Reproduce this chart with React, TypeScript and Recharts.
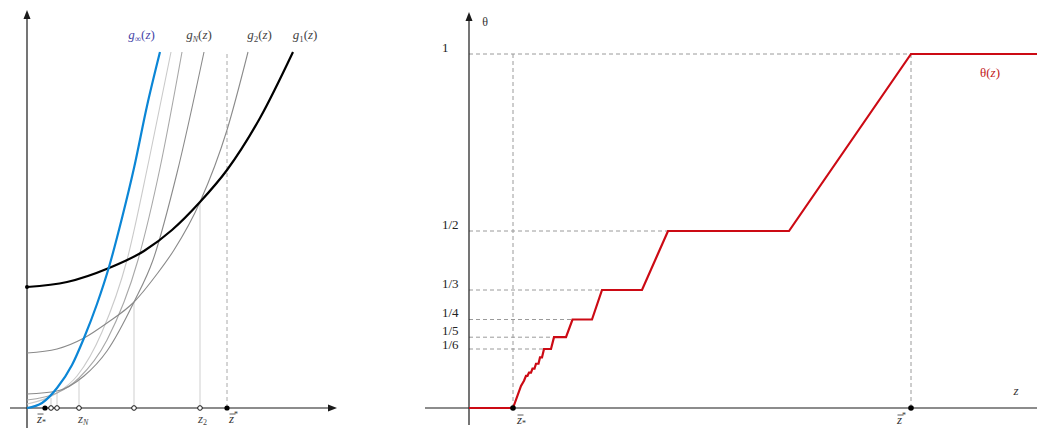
import React from 'react';
import { LineChart, Line, XAxis, YAxis, ReferenceLine, ReferenceDot } from 'recharts';

const FONT = '"Liberation Serif", "DejaVu Serif", serif';

// ---- left panel: the g_n(z) curves, [z, g] pairs ----
const g1Pts = [[0, 121], [40, 126], [82, 140], [117, 157], [145, 178], [173, 206], [200, 238], [233, 290], [266, 356]];
const g2Pts = [[0, 55], [30, 59], [57, 70], [80, 85], [107, 106], [130, 134], [147, 158], [173, 206], [200, 278], [221, 356]];
const g3Pts = [[0, 14], [30, 17], [57, 32], [80, 57], [107, 106], [126, 148], [150, 235], [177, 356]];
const g4Pts = [[0, 8], [30, 15], [52, 30], [80, 68], [111, 148], [133, 240], [155, 356]];
const g5Pts = [[0, 4], [30, 15], [50, 32], [75, 76], [100, 148], [122, 248], [144, 356]];
const gInfPts = [[0, 0], [15, 5], [30, 20], [45, 43], [57, 70], [70, 104], [82, 141], [95, 190], [107, 240], [120, 302], [133, 356]];

// intersections marked on the z axis: [z, height of the thin vertical guide]
const openMarks = [[24, 10], [30, 16], [52, 30], [107, 106], [173, 206]];
const zLowStar = 18;
const zHighStar = 200;
const gTop = 356;

// ---- right panel: theta(z), [z, theta] ----
const thetaPts: [number, number][] = [
  [0, 0], [44, 0], [52, 1 / 16], [55, 1 / 13], [57, 1 / 11], [58.5, 1 / 11], [60, 1 / 10], [62, 1 / 10],
  [63.5, 1 / 9], [65.5, 1 / 9], [67, 1 / 8], [69.5, 1 / 8], [71, 1 / 7], [73, 1 / 7], [75, 1 / 6], [82, 1 / 6],
  [85, 1 / 5], [97, 1 / 5], [103.5, 1 / 4], [123, 1 / 4], [133, 1 / 3], [173, 1 / 3], [199, 1 / 2], [320, 1 / 2],
  [442, 1], [568, 1],
];
const thetaLevels = [1, 1 / 2, 1 / 3, 1 / 4, 1 / 5, 1 / 6];
const thetaLabels = ['1', '1/2', '1/3', '1/4', '1/5', '1/6'];
const thetaLevelStart = [442, 199, 133, 103.5, 85, 75];
const zStarLow = 44;
const zStarHigh = 442;

const toXY = (pts: number[][]) => pts.map(([x, y]) => ({ x, y }));

const AXIS = '#1a1a1a';

const ArrowUp = (props: any) => {
  const { cx, cy } = props;
  return <path d={`M${cx},${cy} L${cx - 3.5},${cy + 9} L${cx + 3.5},${cy + 9} Z`} fill={AXIS} />;
};
const ArrowRight = (props: any) => {
  const { cx, cy } = props;
  return <path d={`M${cx},${cy} L${cx - 9},${cy - 3.5} L${cx - 9},${cy + 3.5} Z`} fill={AXIS} />;
};

const textLabel = (content: React.ReactNode, opts: { anchor?: string; fill?: string; dy?: number; size?: number } = {}) =>
  (props: any) => (
    <text
      x={props.cx}
      y={props.cy + (opts.dy || 0)}
      textAnchor={opts.anchor || 'middle'}
      style={{ fontFamily: FONT, fontSize: opts.size || 13 }}
      fill={opts.fill || '#444'}
    >
      {content}
    </text>
  );

// z with an overbar and a sub/superscript star
const barZ = (sup: boolean) => (props: any) => {
  const { cx, cy } = props;
  return (
    <g>
      <line x1={cx + 0.5} x2={cx + 6.5} y1={cy - 9} y2={cy - 9} stroke="#333" strokeWidth={0.8} />
      <text x={cx} y={cy} style={{ fontFamily: FONT, fontSize: 13 }} fill="#333">
        <tspan fontStyle="italic">z</tspan>
        <tspan style={{ fontSize: 8 }} dy={sup ? -6 : 2}>*</tspan>
      </text>
    </g>
  );
};

const gLabel = (sub: string, subSize = 9) => (
  <>
    <tspan fontStyle="italic">g</tspan>
    <tspan style={{ fontSize: subSize }} dy={3} fontStyle={sub === 'N' ? 'italic' : 'normal'}>{sub}</tspan>
    <tspan dy={-3}>(</tspan>
    <tspan fontStyle="italic">z</tspan>
    <tspan>)</tspan>
  </>
);

const zSub = (sub: string, italic: boolean) => (
  <>
    <tspan fontStyle="italic">z</tspan>
    <tspan style={{ fontSize: 8 }} dy={2} fontStyle={italic ? 'italic' : 'normal'}>{sub}</tspan>
  </>
);

const curve = (pts: number[][], color: string, width: number) => (
  <Line
    data={toXY(pts)}
    dataKey="y"
    type="monotone"
    stroke={color}
    strokeWidth={width}
    dot={false}
    activeDot={false}
    isAnimationActive={false}
  />
);

const LeftPanel = () => (
  <LineChart width={345} height={429} margin={{ top: 10, right: 0, bottom: 1, left: 10 }}>
    <XAxis type="number" dataKey="x" domain={[-17, 318]} hide allowDataOverflow />
    <YAxis type="number" domain={[-20, 398]} hide allowDataOverflow />

    {openMarks.map(([x, h]) => (
      <ReferenceLine key={`v${x}`} segment={[{ x, y: 0 }, { x, y: h }]} stroke="#cfcfcf" strokeWidth={1} />
    ))}
    <ReferenceLine segment={[{ x: zHighStar, y: 0 }, { x: zHighStar, y: gTop }]} stroke="#aaa" strokeDasharray="4 3" />

    <ReferenceLine segment={[{ x: 0, y: -20 }, { x: 0, y: 392 }]} stroke={AXIS} strokeWidth={1.2} />
    <ReferenceLine segment={[{ x: -17, y: 0 }, { x: 303, y: 0 }]} stroke={AXIS} strokeWidth={1.2} />
    <ReferenceDot x={0} y={398} r={0} shape={ArrowUp} />
    <ReferenceDot x={310} y={0} r={0} shape={ArrowRight} />

    {curve(g5Pts, '#cacaca', 1.1)}
    {curve(g4Pts, '#a8a8a8', 1.1)}
    {curve(g3Pts, '#8a8a8a', 1.1)}
    {curve(g2Pts, '#8a8a8a', 1.1)}
    {curve(g1Pts, '#000', 2.2)}
    {curve(gInfPts, '#0b86d6', 2.2)}

    <ReferenceDot x={0} y={121} r={2} fill="#000" stroke="none" />
    {openMarks.map(([x]) => (
      <ReferenceDot key={`o${x}`} x={x} y={0} r={2.3} fill="#fff" stroke="#111" strokeWidth={1} />
    ))}
    <ReferenceDot x={zLowStar} y={0} r={2.6} fill="#000" stroke="none" />
    <ReferenceDot x={zHighStar} y={0} r={2.6} fill="#000" stroke="none" />

    <ReferenceDot x={114.5} y={369} r={0} shape={textLabel(gLabel('∞'), { fill: '#4646a8' })} />
    <ReferenceDot x={172} y={369} r={0} shape={textLabel(gLabel('N', 8))} />
    <ReferenceDot x={232.5} y={369} r={0} shape={textLabel(gLabel('2'))} />
    <ReferenceDot x={278} y={369} r={0} shape={textLabel(gLabel('1'))} />

    <ReferenceDot x={10} y={-15} r={0} shape={barZ(false)} />
    <ReferenceDot x={51} y={-15} r={0} shape={textLabel(zSub('N', true), { anchor: 'start' })} />
    <ReferenceDot x={171} y={-15} r={0} shape={textLabel(zSub('2', false), { anchor: 'start' })} />
    <ReferenceDot x={202} y={-15} r={0} shape={barZ(true)} />
  </LineChart>
);

const RightPanel = () => (
  <LineChart width={617} height={429} margin={{ top: 10, right: 0, bottom: 1, left: 5 }}>
    <XAxis type="number" dataKey="x" domain={[-44, 568]} hide allowDataOverflow />
    <YAxis type="number" domain={[-20 / 354, 398 / 354]} hide allowDataOverflow />

    {thetaLevels.map((v, i) => (
      <ReferenceLine key={`h${i}`} segment={[{ x: 0, y: v }, { x: thetaLevelStart[i], y: v }]} stroke="#9a9a9a" strokeDasharray="4 3" />
    ))}
    <ReferenceLine segment={[{ x: zStarLow, y: 0 }, { x: zStarLow, y: 1 }]} stroke="#9a9a9a" strokeDasharray="4 3" />
    <ReferenceLine segment={[{ x: zStarHigh, y: 0 }, { x: zStarHigh, y: 1 }]} stroke="#9a9a9a" strokeDasharray="4 3" />

    <ReferenceLine segment={[{ x: 0, y: -17 / 354 }, { x: 0, y: 388 / 354 }]} stroke={AXIS} strokeWidth={1.2} />
    <ReferenceLine segment={[{ x: -44, y: 0 }, { x: 568, y: 0 }]} stroke={AXIS} strokeWidth={1.2} />
    <ReferenceDot x={0} y={396 / 354} r={0} shape={ArrowUp} />

    <Line
      data={toXY(thetaPts)}
      dataKey="y"
      type="linear"
      stroke="#cc0a14"
      strokeWidth={2.2}
      dot={false}
      activeDot={false}
      isAnimationActive={false}
    />

    <ReferenceDot x={zStarLow} y={0} r={2.8} fill="#000" stroke="none" />
    <ReferenceDot x={zStarHigh} y={0} r={2.8} fill="#000" stroke="none" />

    {thetaLevels.map((v, i) => (
      <ReferenceDot
        key={`t${i}`}
        x={-27}
        y={v}
        r={0}
        shape={textLabel(thetaLabels[i], { anchor: 'start', fill: '#222', dy: i === 5 ? 0 : -2.5 })}
      />
    ))}
    <ReferenceDot x={16} y={1.079} r={0} shape={textLabel('θ', { fill: '#333', size: 12 })} />
    <ReferenceDot x={521} y={0.935} r={0} shape={textLabel(<>θ(<tspan fontStyle="italic">z</tspan>)</>, { fill: '#c21a1a' })} />
    <ReferenceDot x={547} y={0.037} r={0} shape={textLabel(<tspan fontStyle="italic">z</tspan>, { fill: '#333' })} />
    <ReferenceDot x={48} y={-16 / 354} r={0} shape={barZ(false)} />
    <ReferenceDot x={428} y={-16 / 354} r={0} shape={barZ(true)} />
  </LineChart>
);

export default function App() {
  return (
    <div style={{ position: 'absolute', left: 0, top: 0, width: 1037, height: 429, background: '#fff' }}>
      <div style={{ position: 'absolute', left: 0, top: 0 }}>
        <LeftPanel />
      </div>
      <div style={{ position: 'absolute', left: 420, top: 0 }}>
        <RightPanel />
      </div>
    </div>
  );
}
